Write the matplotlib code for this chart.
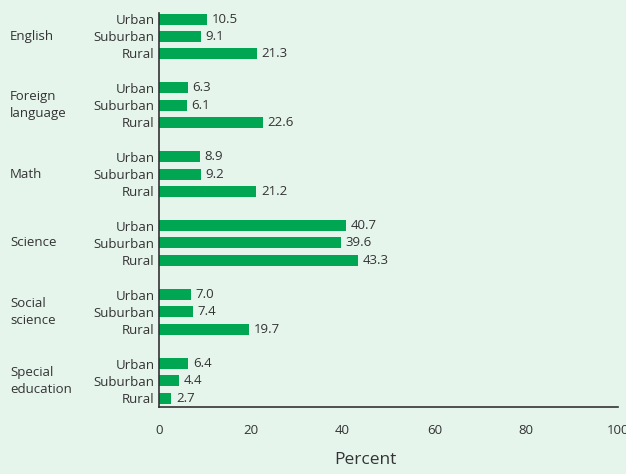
import numpy as np
import matplotlib.pyplot as plt

subjects = ["English", "Foreign\nlanguage", "Math", "Science", "Social\nscience", "Special\neducation"]
locales = ["Urban", "Suburban", "Rural"]
urban = [10.5, 6.3, 8.9, 40.7, 7.0, 6.4]
suburban = [9.1, 6.1, 9.2, 39.6, 7.4, 4.4]
rural = [21.3, 22.6, 21.2, 43.3, 19.7, 2.7]

bg = "#e6f5ec"
green = "#00a651"
txt = "#333333"

plt.rcParams["font.family"] = ["Open Sans", "DejaVu Sans"]

fig = plt.figure(figsize=(6.26, 4.74), dpi=100, facecolor=bg)
ax = fig.add_axes([0.254, 0.1414, 0.733, 0.8312])
ax.set_facecolor(bg)

series = [urban, suburban, rural]
ylabels_pos = []
ylabels_txt = []
for g, subj in enumerate(subjects):
    for i, vals in enumerate(series):
        y = g * 4 + i
        v = vals[g]
        ax.barh(y, v, height=0.64, color=green)
        ax.text(v + 1.0, y, f"{v:.1f}", va="center", ha="left", fontsize=9.5, color=txt)
        ylabels_pos.append(y)
        ylabels_txt.append(locales[i])
    ax.text(-32.5, g * 4 + 1, subj, va="center", ha="left", fontsize=9.5,
            color=txt, linespacing=1.35)

ax.set_yticks(ylabels_pos)
ax.set_yticklabels(ylabels_txt, fontsize=9.5, color=txt)
ax.set_ylim(22.52, -0.35)
ax.set_xlim(0, 100)
ax.set_xticks([0, 20, 40, 60, 80, 100])
ax.tick_params(axis="both", length=0, labelsize=9.5, colors=txt)
ax.tick_params(axis="x", pad=12)
ax.tick_params(axis="y", pad=3)
ax.set_xlabel("Percent", fontsize=12.5, color=txt, labelpad=13)
ax.xaxis.set_label_coords(0.45, -0.115)
for s in ["top", "right"]:
    ax.spines[s].set_visible(False)
for s in ["left", "bottom"]:
    ax.spines[s].set_color("#333333")
    ax.spines[s].set_linewidth(1.2)

fig.savefig("out.png", dpi=100, facecolor=bg)
